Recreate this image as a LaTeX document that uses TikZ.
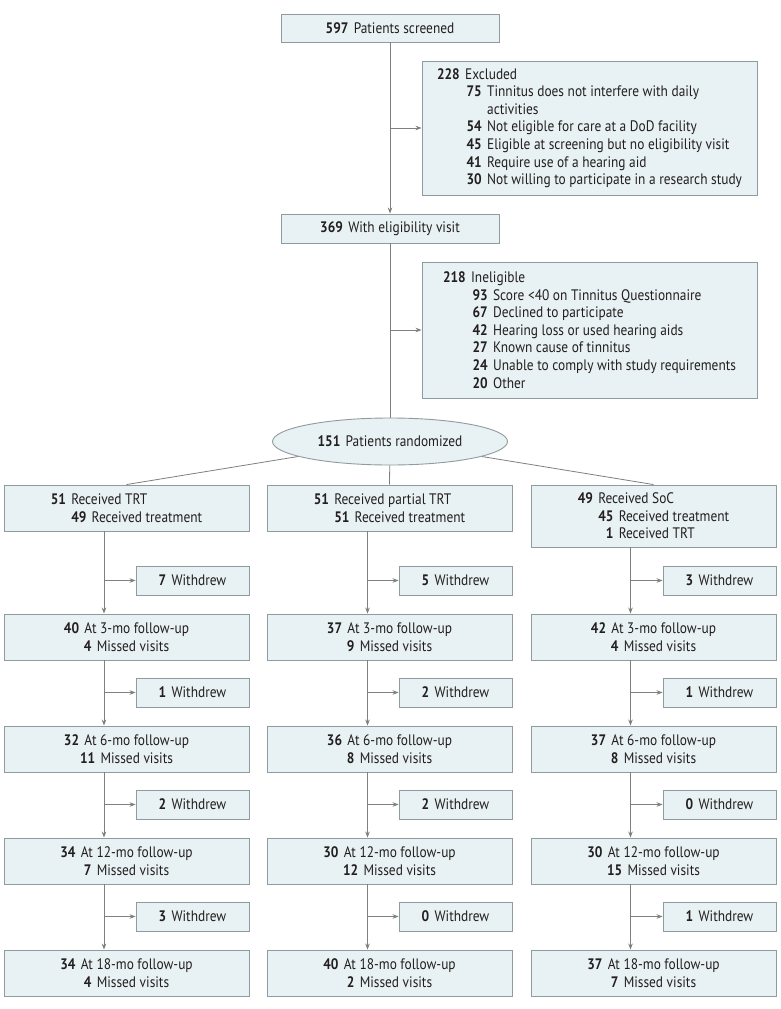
\documentclass[tikz,border=0pt]{standalone}
\usepackage{fontspec}
\usepackage{calc}
\setmainfont{PT Sans}[FakeStretch=0.88]
\usetikzlibrary{shapes.geometric,arrows.meta}
\definecolor{boxfill}{HTML}{E8F1F3}
\definecolor{boxdraw}{HTML}{8F9B9E}
\definecolor{linecol}{HTML}{7F7F7F}
\definecolor{txt}{HTML}{231F20}
\newcommand{\nb}[1]{\textbf{#1}\hspace{0.35em}}
\newcommand{\excitem}[3]{\phantom{\nb{#1}}\makebox[1.1em][r]{\textbf{#2}}\hspace{0.35em}#3}
\newcommand{\exccont}[2]{\phantom{\nb{#1}}\phantom{\makebox[1.1em][r]{\textbf{00}}\hspace{0.35em}}#2}
\begin{document}
\begin{tikzpicture}[x=1pt,y=-1pt,
 box/.style={draw=boxdraw, fill=boxfill, line width=0.9pt, inner sep=0pt, text=txt, font=\fontsize{15.2}{17.6}\selectfont},
 main/.style={box, minimum width=245pt, minimum height=46pt, align=center},
 wd/.style={box, minimum width=113pt, minimum height=29pt},
 conn/.style={draw=linecol, line width=0.8pt},
 arr/.style={conn, -{Stealth[length=6pt,width=4.5pt]}}]
\useasboundingbox (0,0) rectangle (780,1009);

\node[box, minimum width=218pt, minimum height=28pt] (scr) at (390,28) {\nb{597}Patients screened};
\node[box, minimum width=335pt, minimum height=134pt, align=left] (exc) at (589.5,128) {%
\nb{228}Excluded\\
\excitem{228}{75}{Tinnitus does not interfere with daily}\\
\exccont{228}{activities}\\
\excitem{228}{54}{Not eligible for care at a DoD facility}\\
\excitem{228}{45}{Eligible at screening but no eligibility visit}\\
\excitem{228}{41}{Require use of a hearing aid}\\
\excitem{228}{30}{Not willing to participate in a research study}};
\node[box, minimum width=218pt, minimum height=29pt] (elig) at (390,228.5) {\nb{369}With eligibility visit};
\node[box, minimum width=335pt, minimum height=136pt, align=left] (inel) at (589.5,330) {%
\nb{218}Ineligible\\
\excitem{218}{93}{Score <40 on Tinnitus Questionnaire}\\
\excitem{218}{67}{Declined to participate}\\
\excitem{218}{42}{Hearing loss or used hearing aids}\\
\excitem{218}{27}{Known cause of tinnitus}\\
\excitem{218}{24}{Unable to comply with study requirements}\\
\excitem{218}{20}{Other}};
\node[box, ellipse, minimum width=235pt, minimum height=47pt] (rand) at (390,441.5) {\nb{151}Patients randomized};

\node[main, align=left] (a0) at (126.5,508) {\nb{51}Received TRT\\\phantom{\nb{51}}\nb{49}Received treatment};
\node[main, align=left] (b0) at (389.5,508) {\nb{51}Received partial TRT\\\phantom{\nb{51}}\nb{51}Received treatment};
\node[main, align=left, minimum height=62pt] (c0) at (653.5,516) {\nb{49}Received SoC\\\phantom{\nb{49}}\nb{45}Received treatment\\\phantom{\nb{49}}\makebox[\widthof{\textbf{45}}][r]{\textbf{1}}\hspace{0.35em}Received TRT};

% follow-up boxes
\node[main] (a1) at (126.5,637) {\nb{40}At 3-mo follow-up\\\nb{4}Missed visits};
\node[main] (a2) at (126.5,749) {\nb{32}At 6-mo follow-up\\\nb{11}Missed visits};
\node[main] (a3) at (126.5,861) {\nb{34}At 12-mo follow-up\\\nb{7}Missed visits};
\node[main] (a4) at (126.5,973) {\nb{34}At 18-mo follow-up\\\nb{4}Missed visits};
\node[main] (b1) at (389.5,637) {\nb{37}At 3-mo follow-up\\\nb{9}Missed visits};
\node[main] (b2) at (389.5,749) {\nb{36}At 6-mo follow-up\\\nb{8}Missed visits};
\node[main] (b3) at (389.5,861) {\nb{30}At 12-mo follow-up\\\nb{12}Missed visits};
\node[main] (b4) at (389.5,973) {\nb{40}At 18-mo follow-up\\\nb{2}Missed visits};
\node[main] (c1) at (653.5,637) {\nb{42}At 3-mo follow-up\\\nb{4}Missed visits};
\node[main] (c2) at (653.5,749) {\nb{37}At 6-mo follow-up\\\nb{8}Missed visits};
\node[main] (c3) at (653.5,861) {\nb{30}At 12-mo follow-up\\\nb{15}Missed visits};
\node[main] (c4) at (653.5,973) {\nb{37}At 18-mo follow-up\\\nb{7}Missed visits};

% withdrew boxes
\node[wd] (wa1) at (192.5,580.5) {\nb{7}Withdrew};
\node[wd] (wa2) at (192.5,692.5) {\nb{1}Withdrew};
\node[wd] (wa3) at (192.5,804.5) {\nb{2}Withdrew};
\node[wd] (wa4) at (192.5,916.5) {\nb{3}Withdrew};
\node[wd] (wb1) at (455.5,580.5) {\nb{5}Withdrew};
\node[wd] (wb2) at (455.5,692.5) {\nb{2}Withdrew};
\node[wd] (wb3) at (455.5,804.5) {\nb{2}Withdrew};
\node[wd] (wb4) at (455.5,916.5) {\nb{0}Withdrew};
\node[wd] (wc1) at (719.5,580.5) {\nb{3}Withdrew};
\node[wd] (wc2) at (719.5,692.5) {\nb{1}Withdrew};
\node[wd] (wc3) at (719.5,804.5) {\nb{0}Withdrew};
\node[wd] (wc4) at (719.5,916.5) {\nb{1}Withdrew};

\coordinate (xa) at (104,0);
\coordinate (xb) at (367.5,0);
\coordinate (xc) at (630.5,0);

% connectors
\draw[arr] (scr) -- (elig);
\draw[arr] (exc.west -| scr.south) -- (exc.west);
\draw[conn] (elig) -- (rand);
\draw[arr] (inel.west -| elig.south) -- (inel.west);
\draw[conn] (rand) -- (a0.north);
\draw[conn] (rand) -- (b0.north);
\draw[conn] (rand) -- (c0.north);

\foreach \c in {a,b,c}{
  \foreach \i/\j in {0/1,1/2,2/3,3/4}{
    \draw[arr] (\c\i.south -| x\c) -- (\c\j.north -| x\c);
    \draw[arr] (w\c\j.west -| x\c) -- (w\c\j.west);
  }
}
\end{tikzpicture}
\end{document}
